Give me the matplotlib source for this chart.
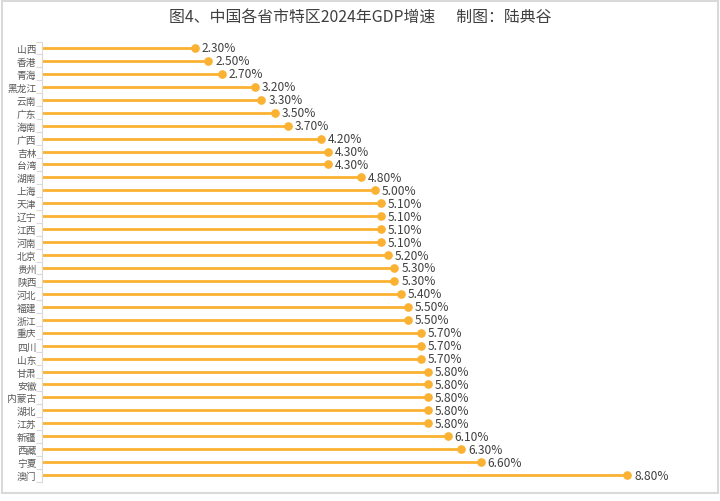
import matplotlib
matplotlib.use("Agg")
import matplotlib.pyplot as plt
from matplotlib.patches import Rectangle
import numpy as np

plt.rcParams['font.family'] = ['Noto Sans CJK SC', 'DejaVu Sans']

# --- DATA ---
regions = ['山西', '香港', '青海', '黑龙江', '云南', '广东', '海南', '广西', '吉林', '台湾',
           '湖南', '上海', '天津', '辽宁', '江西', '河南', '北京', '贵州', '陕西', '河北',
           '福建', '浙江', '重庆', '四川', '山东', '甘肃', '安徽', '内蒙古', '湖北', '江苏',
           '新疆', '西藏', '宁夏', '澳门']
growth = [2.3, 2.5, 2.7, 3.2, 3.3, 3.5, 3.7, 4.2, 4.3, 4.3,
          4.8, 5.0, 5.1, 5.1, 5.1, 5.1, 5.2, 5.3, 5.3, 5.4,
          5.5, 5.5, 5.7, 5.7, 5.7, 5.8, 5.8, 5.8, 5.8, 5.8,
          6.1, 6.3, 6.6, 8.8]
title = '图4、中国各省市特区2024年GDP增速      制图：陆典谷'

orange = '#FBB131'
W, H = 720, 502

fig = plt.figure(figsize=(W / 100, H / 100), dpi=100)
ax = fig.add_axes([42 / W, 1 - 482.5 / H, 665 / W, (482.5 - 42.5) / H])

y = np.arange(len(regions))
ax.hlines(y, 0, growth, color=orange, lw=2.0, zorder=2)
ax.plot(growth, y, 'o', color=orange, ms=5.2, zorder=3)
for yi, v in zip(y, growth):
    ax.annotate(f'{v:.2f}%', (v, yi), xytext=(5, 0), textcoords='offset points',
                va='center', ha='left', fontsize=8.6, color='#404040')

ax.set_xlim(0, 10)
ax.set_ylim(len(regions) - 0.5, -0.5)
ax.set_yticks(y)
ax.set_yticklabels(regions, fontsize=7, color='#595959')
ax.set_yticks(np.arange(len(regions) + 1) - 0.5, minor=True)
ax.tick_params(axis='y', which='major', length=0, pad=4)
ax.tick_params(axis='y', which='minor', length=4, color='#d9d9d9', width=0.8)
ax.set_xticks([])
for s in ['top', 'right', 'bottom']:
    ax.spines[s].set_visible(False)
ax.spines['left'].set_color('#d9d9d9')
ax.spines['left'].set_linewidth(0.8)

fig.text(0.5, 1 - 18 / H, title, ha='center', va='center', fontsize=11.4, color='#404040')

# outer frame
fig.patches.append(Rectangle((1.5 / W, 8 / H), 716.5 / W, 492 / H, transform=fig.transFigure,
                             fill=False, edgecolor='#d9d9d9', lw=1.5, zorder=0))

fig.savefig('out.png', dpi=100)
